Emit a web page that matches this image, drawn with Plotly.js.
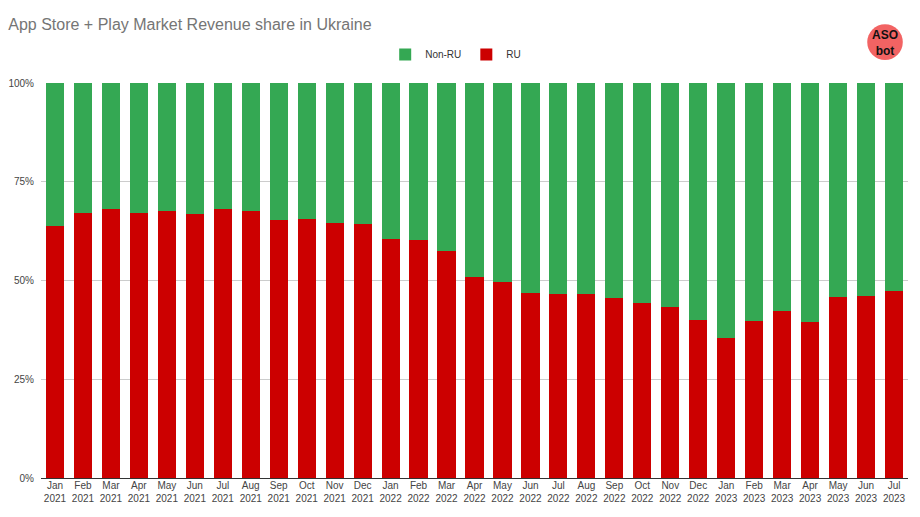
<!DOCTYPE html>
<html>
<head>
<meta charset="utf-8">
<script src="https://cdn.plot.ly/plotly-3.0.1.min.js"></script>
<style>html,body{margin:0;padding:0;background:#fff;}#chart{width:920px;height:517px;}</style>
</head>
<body>
<div id="chart"></div>
<script>
const months = ["Jan<br>2021","Feb<br>2021","Mar<br>2021","Apr<br>2021","May<br>2021","Jun<br>2021","Jul<br>2021","Aug<br>2021","Sep<br>2021","Oct<br>2021","Nov<br>2021","Dec<br>2021",
"Jan<br>2022","Feb<br>2022","Mar<br>2022","Apr<br>2022","May<br>2022","Jun<br>2022","Jul<br>2022","Aug<br>2022","Sep<br>2022","Oct<br>2022","Nov<br>2022","Dec<br>2022",
"Jan<br>2023","Feb<br>2023","Mar<br>2023","Apr<br>2023","May<br>2023","Jun<br>2023","Jul<br>2023"];
const ruShare = [63.9,67.0,68.1,67.0,67.5,66.8,68.1,67.5,65.4,65.6,64.6,64.3,
60.4,60.2,57.4,50.9,49.6,46.8,46.6,46.6,45.6,44.3,43.3,40.0,
35.4,39.7,42.3,39.5,45.8,46.0,47.3];
const nonRuShare = [36.1,33.0,31.9,33.0,32.5,33.2,31.9,32.5,34.6,34.4,35.4,35.7,
39.6,39.8,42.6,49.1,50.4,53.2,53.4,53.4,54.4,55.7,56.7,60.0,
64.6,60.3,57.7,60.5,54.2,54.0,52.7];
const yTicks = [0,25,50,75,100];
const yTickText = ["0%","25%","50%","75%","100%"];

const traces = [
  {type:'bar', name:'RU', x:months, y:ruShare, marker:{color:'#cc0000'}, hoverinfo:'x+y+name'},
  {type:'bar', name:'Non-RU', x:months, y:nonRuShare, marker:{color:'#34a853'}, hoverinfo:'x+y+name'}
];

const layout = {
  width:920, height:517,
  margin:{l:41, r:12, t:83, b:39, pad:0},
  paper_bgcolor:'#fff', plot_bgcolor:'#fff',
  barmode:'stack', bargap:0.35,
  font:{family:'Arial, Liberation Sans, sans-serif', size:10, color:'#444'},
  title:{text:'App Store + Play Market Revenue share in Ukraine', x:0.009, xanchor:'left', y:0.952, yanchor:'middle',
         font:{family:'Arial, Liberation Sans, sans-serif', size:16, color:'#757575'}},
  showlegend:true,
  legend:{orientation:'h', x:0.397, xanchor:'left', y:1.072, yanchor:'middle', traceorder:'reversed',
          font:{size:10, color:'#333'}, itemwidth:30},
  xaxis:{type:'category', tickfont:{size:10, color:'#444'}, showgrid:false, ticks:'', showline:false, fixedrange:true},
  yaxis:{range:[0,100], tickvals:yTicks, ticktext:yTickText, tickfont:{size:10, color:'#444'}, ticklabelstandoff:6,
         gridcolor:'#cccccc', gridwidth:1, zeroline:true, zerolinecolor:'#333333', zerolinewidth:1, ticks:'', fixedrange:true},
  shapes:[
    {type:'circle', xref:'paper', yref:'paper', x0:0.953, x1:0.994, y0:1.058, y1:1.149,
     fillcolor:'#f26363', line:{width:0}}
  ],
  annotations:[
    {xref:'paper', yref:'paper', x:0.9735, y:1.1025, xanchor:'center', yanchor:'middle', text:'<b>ASO<br>bot</b>', showarrow:false,
     font:{size:12, color:'#111', family:'Arial, Liberation Sans, sans-serif'}}
  ]
};

Plotly.newPlot('chart', traces, layout, {displayModeBar:false, staticPlot:true});
</script>
</body>
</html>
